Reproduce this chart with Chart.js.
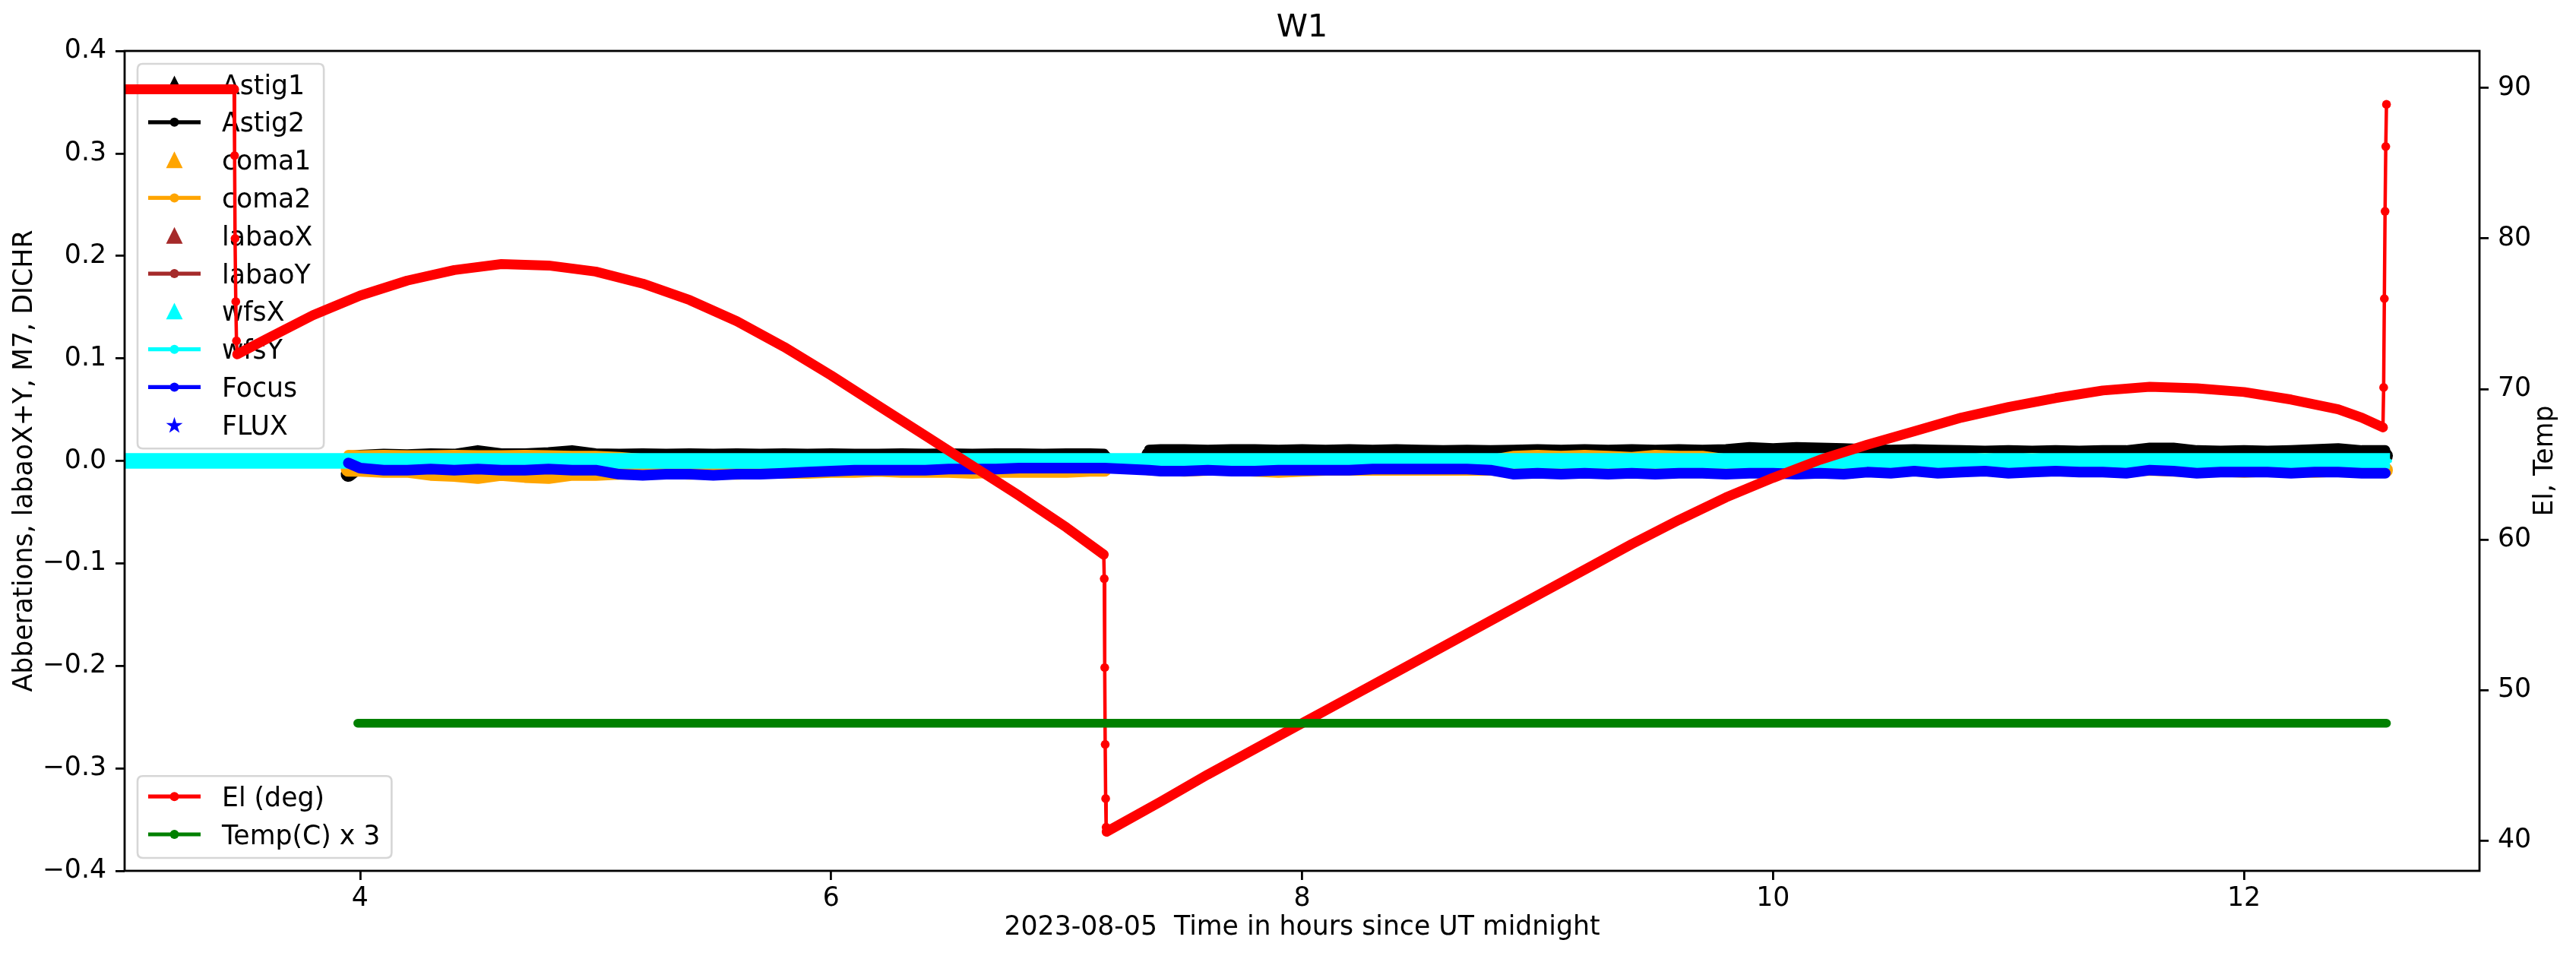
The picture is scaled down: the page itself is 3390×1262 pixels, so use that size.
<!DOCTYPE html>
<html>
<head>
<meta charset="utf-8">
<script src="https://cdn.jsdelivr.net/npm/chart.js@4.4.0/dist/chart.umd.min.js"></script>
<style>
html,body{margin:0;padding:0;background:#ffffff;}
#c{display:block;}
</style>
</head>
<body>
<canvas id="c" width="3390" height="1262" style="width:3390px;height:1262px"></canvas>
<script>
// ---------- tick labels ----------
const xTicks = [4, 6, 8, 10, 12];
const leftTicks = [-0.4, -0.3, -0.2, -0.1, 0.0, 0.1, 0.2, 0.3, 0.4];
const rightTicks = [40, 50, 60, 70, 80, 90];

// ---------- aberration series (left axis) ----------
const abTimes = [3.95, 4.0, 4.1, 4.2, 4.3, 4.4, 4.5, 4.6, 4.7, 4.8, 4.9, 5.0, 5.1, 5.2, 5.3, 5.4, 5.5, 5.6, 5.7, 5.8,
  5.9, 6.0, 6.1, 6.2, 6.3, 6.4, 6.5, 6.6, 6.7, 6.8, 6.9, 7.0, 7.1, 7.16,
  7.25,
  7.35, 7.4, 7.5, 7.6, 7.7, 7.8, 7.9, 8.0, 8.1, 8.2, 8.3, 8.4, 8.5, 8.6, 8.7, 8.8, 8.9, 9.0, 9.1, 9.2,
  9.3, 9.4, 9.5, 9.6, 9.7, 9.8, 9.9, 10.0, 10.1, 10.2, 10.3, 10.4, 10.5, 10.6, 10.7, 10.8, 10.9, 11.0, 11.1, 11.2,
  11.3, 11.4, 11.5, 11.6, 11.7, 11.8, 11.9, 12.0, 12.1, 12.2, 12.3, 12.4, 12.5, 12.6];

const astig1 = [-0.013, -0.004, 0.002, 0.003, 0.004, 0.003, 0.004, 0.003, 0.004, 0.004, 0.005, 0.004, 0.003, 0.004, 0.003, 0.003, 0.004, 0.003, 0.003, 0.004,
  0.003, 0.003, 0.004, 0.003, 0.003, 0.004, 0.003, 0.004, 0.003, 0.003, 0.004, 0.003, 0.004, 0.003,
  null,
  0.006, 0.007, 0.006, 0.007, 0.006, 0.007, 0.006, 0.007, 0.006, 0.006, 0.007, 0.006, 0.006, 0.005, 0.006, 0.006, 0.006, 0.007, 0.006, 0.006,
  0.006, 0.007, 0.006, 0.006, 0.006, 0.007, 0.008, 0.008, 0.007, 0.008, 0.006, 0.006, 0.006, 0.006, 0.005, 0.005, 0.006, 0.005, 0.005, 0.006,
  0.005, 0.006, 0.005, 0.007, 0.007, 0.005, 0.005, 0.005, 0.006, 0.005, 0.007, 0.006, 0.005, 0.005];

const astig2 = [0.005, 0.006, 0.007, 0.0065, 0.0075, 0.007, 0.0105, 0.0075, 0.0075, 0.0085, 0.0105, 0.0075, 0.007, 0.0075, 0.007, 0.0075, 0.007, 0.0075, 0.007, 0.0075,
  0.007, 0.0075, 0.007, 0.007, 0.0075, 0.007, 0.0075, 0.007, 0.0075, 0.0075, 0.007, 0.0075, 0.0075, 0.007,
  null,
  0.011, 0.0115, 0.0115, 0.011, 0.0115, 0.0115, 0.011, 0.0115, 0.011, 0.0115, 0.011, 0.0115, 0.011, 0.0105, 0.011, 0.0105, 0.011, 0.0115, 0.011, 0.0115,
  0.011, 0.0115, 0.011, 0.0115, 0.011, 0.0115, 0.0135, 0.0125, 0.0135, 0.013, 0.0125, 0.0115, 0.011, 0.0115, 0.011, 0.0105, 0.010, 0.0105, 0.010, 0.0105,
  0.010, 0.0105, 0.0105, 0.013, 0.013, 0.0105, 0.010, 0.0105, 0.010, 0.0105, 0.0115, 0.0125, 0.0105, 0.0105];

const coma1 = [-0.008, -0.008, -0.009, -0.009, -0.012, -0.013, -0.015, -0.012, -0.014, -0.015, -0.012, -0.012, -0.011, -0.011, -0.010, -0.011, -0.010, -0.011, -0.010, -0.010,
  -0.010, -0.009, -0.009, -0.008, -0.009, -0.009, -0.009, -0.010, -0.009, -0.009, -0.009, -0.009, -0.008, -0.008,
  null,
  -0.007, -0.007, -0.008, -0.007, -0.007, -0.008, -0.009, -0.008, -0.007, -0.007, -0.007, -0.007, -0.007, -0.007, -0.007, -0.007, -0.008, -0.007, -0.008, -0.007,
  -0.008, -0.007, -0.008, -0.007, -0.007, -0.008, -0.007, -0.007, -0.008, -0.007, -0.007, -0.007, -0.008, -0.007, -0.007, -0.008, -0.007, -0.008, -0.007, -0.007,
  -0.008, -0.007, -0.008, -0.007, -0.008, -0.008, -0.008, -0.009, -0.008, -0.008, -0.009, -0.008, -0.009, -0.009];

const coma2 = [0.006, 0.0055, 0.006, 0.0055, 0.0055, 0.006, 0.0055, 0.0055, 0.006, 0.0055, 0.005, 0.005, 0.004, 0.002, 0.001, 0.001, 0.002, 0.001, 0.001, 0.002,
  0.001, 0.001, 0.002, 0.001, 0.001, 0.001, 0.002, 0.001, 0.001, 0.001, 0.001, 0.002, 0.001, 0.001,
  null,
  0.001, 0.001, 0.002, 0.001, 0.001, 0.001, 0.001, 0.002, 0.001, 0.001, 0.001, 0.001, 0.001, 0.001, 0.002, 0.001, 0.005, 0.006, 0.005, 0.006,
  0.005, 0.004, 0.006, 0.005, 0.005, 0.002, 0.001, 0.001, 0.002, 0.001, 0.001, 0.001, 0.001, 0.001, 0.002, 0.001, 0.003, 0.001, 0.003, 0.001,
  0.001, 0.002, 0.001, 0.001, 0.001, 0.002, 0.001, 0.001, 0.001, 0.002, 0.001, 0.001, 0.001, 0.001];

const focus = [-0.002, -0.007, -0.009, -0.009, -0.008, -0.009, -0.008, -0.009, -0.009, -0.008, -0.009, -0.009, -0.013, -0.014, -0.013, -0.013, -0.014, -0.013, -0.013, -0.012,
  -0.011, -0.010, -0.009, -0.009, -0.009, -0.009, -0.008, -0.008, -0.008, -0.007, -0.007, -0.007, -0.007, -0.007,
  null,
  -0.009, -0.010, -0.010, -0.009, -0.010, -0.010, -0.009, -0.009, -0.009, -0.009, -0.008, -0.008, -0.008, -0.008, -0.008, -0.009, -0.013, -0.012, -0.013, -0.012,
  -0.013, -0.012, -0.013, -0.012, -0.012, -0.013, -0.012, -0.012, -0.013, -0.012, -0.013, -0.011, -0.012, -0.010, -0.012, -0.011, -0.010, -0.012, -0.011, -0.010,
  -0.011, -0.011, -0.012, -0.009, -0.010, -0.012, -0.011, -0.011, -0.011, -0.012, -0.011, -0.011, -0.012, -0.012];

const wfsTimes = [3.0, 4.0, 5.0, 6.0, 7.0, 8.0, 9.0, 10.0, 11.0, 12.0, 12.62];
const wfsX = [0.0, 0.0, 0.0, 0.0, 0.0, 0.0, 0.0, 0.0, 0.0, 0.0, 0.0];
const wfsY = [0.0, 0.0, 0.0, 0.0, 0.0, 0.0, 0.0, 0.0, 0.0, 0.0, 0.0];

const labaoX = [];
const labaoY = [];
const flux = [];

// ---------- right axis series ----------
const elTimes = [3.0, 3.2, 3.4, 3.465, 3.467, 3.469, 3.472, 3.475, 3.478,
  3.6, 3.8, 4.0, 4.2, 4.4, 4.6, 4.8, 5.0, 5.2, 5.4, 5.6, 5.8, 6.0, 6.2, 6.4, 6.6, 6.8, 7.0,
  7.158, 7.160, 7.162, 7.164, 7.166, 7.168, 7.170,
  7.4, 7.6, 7.8, 8.0, 8.2, 8.4, 8.6, 8.8, 9.0, 9.2, 9.4, 9.6, 9.8, 10.0, 10.2, 10.4, 10.6, 10.8, 11.0, 11.2,
  11.4, 11.6, 11.8, 12.0, 12.2, 12.4, 12.5, 12.59,
  12.593, 12.596, 12.599, 12.602, 12.605];
const elValues = [89.9, 89.9, 89.9, 89.9, 85.5, 80.0, 75.8, 73.2, 72.3,
  73.3, 74.9, 76.2, 77.2, 77.9, 78.3, 78.2, 77.8, 77.0, 75.9, 74.5, 72.8, 70.9, 68.9, 66.9, 64.9, 62.9, 60.8,
  59.0, 57.4, 51.5, 46.4, 42.8, 40.9, 40.6,
  42.6, 44.4, 46.1, 47.8, 49.5, 51.2, 52.9, 54.6, 56.3, 58.0, 59.7, 61.3, 62.8, 64.1, 65.3, 66.3, 67.2, 68.1, 68.8, 69.4,
  69.9, 70.15, 70.05, 69.8, 69.3, 68.65, 68.1, 67.45,
  70.1, 76.0, 81.8, 86.1, 88.9];

const tempTimes = [3.99, 5.0, 6.0, 7.0, 8.0, 9.0, 10.0, 11.0, 12.0, 12.605];
const tempValues = [47.8, 47.8, 47.8, 47.8, 47.8, 47.8, 47.8, 47.8, 47.8, 47.8];

// ---------- text ----------
const titleText = 'W1';
const xLabel = '2023-08-05  Time in hours since UT midnight';
const yLabel = 'Abberations, labaoX+Y, M7, DICHR';
const y2Label = 'El, Temp';

// ---------- helpers ----------
const FS = 34.7;
const FONT = '"DejaVu Sans", "Liberation Sans", sans-serif';
function pairs(t, v) { return t.map((x, i) => ({ x: x, y: v[i] })); }
function fmtLeft(v) { const s = Number(v).toFixed(1); return s.replace('-', '\u2212'); }

const COLORS = { black: '#000000', orange: '#ffa500', brown: '#a52a2a', cyan: '#00ffff', blue: '#0000ff', red: '#ff0000', green: '#008000' };

function leftSet(label, data, color, width, marker, line, extra) {
  return Object.assign({
    label: label, data: data, yAxisID: 'y', borderColor: color, backgroundColor: color,
    borderWidth: width, pointRadius: 0, fill: false, spanGaps: false, clip: 0,
    borderCapStyle: 'round', borderJoinStyle: 'round', mplMarker: marker, mplLine: line
  }, extra || {});
}

const datasets = [
  leftSet('Astig1', pairs(abTimes, astig1), COLORS.black, 20, 'tri', false),
  leftSet('Astig2', pairs(abTimes, astig2), COLORS.black, 13, 'dot', true),
  leftSet('coma1', pairs(abTimes, coma1), COLORS.orange, 20, 'tri', false),
  leftSet('coma2', pairs(abTimes, coma2), COLORS.orange, 13, 'dot', true),
  leftSet('labaoX', labaoX, COLORS.brown, 20, 'tri', false),
  leftSet('labaoY', labaoY, COLORS.brown, 5.2, 'dot', true),
  leftSet('wfsX', pairs(wfsTimes, wfsX), COLORS.cyan, 20.7, 'tri', false, { borderCapStyle: 'butt' }),
  leftSet('wfsY', pairs(wfsTimes, wfsY), COLORS.cyan, 5.2, 'dot', true),
  leftSet('Focus', pairs(abTimes, focus), COLORS.blue, 14, 'dot', true, {
    spanGaps: true,
    segment: { borderWidth: c => (c.p1.parsed.x - c.p0.parsed.x) > 0.15 ? 4.5 : 14 }
  }),
  leftSet('FLUX', flux, COLORS.blue, 0, 'star', false),
  {
    label: 'El (deg)', data: pairs(elTimes, elValues), yAxisID: 'y1', borderColor: COLORS.red, backgroundColor: COLORS.red,
    borderWidth: 13, pointRadius: 5.8, pointBorderWidth: 0, pointBackgroundColor: COLORS.red, fill: false, clip: 0,
    borderCapStyle: 'round', borderJoinStyle: 'round', mplMarker: 'dot', mplLine: true,
    segment: { borderWidth: c => (c.p1.parsed.x - c.p0.parsed.x) < 0.02 ? 4.5 : 13 }
  },
  {
    label: 'Temp(C) x 3', data: pairs(tempTimes, tempValues), yAxisID: 'y1', borderColor: COLORS.green, backgroundColor: COLORS.green,
    borderWidth: 11.5, pointRadius: 0, fill: false, clip: 0,
    borderCapStyle: 'round', borderJoinStyle: 'round', mplMarker: 'dot', mplLine: true
  }
];
// matplotlib draws later series on top: give earlier series a higher order (drawn first)
datasets.forEach((d, i) => { d.order = 100 - i; });

// ---------- legend drawing (matplotlib look) ----------
function drawMarker(ctx, kind, cx, cy, color) {
  ctx.save();
  ctx.fillStyle = color; ctx.strokeStyle = color;
  if (kind === 'tri') {
    const s = 19.5;
    ctx.beginPath();
    ctx.moveTo(cx, cy - s / 2); ctx.lineTo(cx - s / 2, cy + s / 2); ctx.lineTo(cx + s / 2, cy + s / 2); ctx.closePath();
    ctx.lineWidth = 1.5; ctx.lineJoin = 'miter'; ctx.fill(); ctx.stroke();
  } else if (kind === 'dot') {
    ctx.beginPath(); ctx.arc(cx, cy, 6, 0, Math.PI * 2); ctx.fill();
  } else if (kind === 'star') {
    const R = 11.5, r = R * 0.381966;
    ctx.beginPath();
    for (let k = 0; k < 10; k++) {
      const ang = -Math.PI / 2 + k * Math.PI / 5;
      const rad = (k % 2 === 0) ? R : r;
      const px = cx + rad * Math.cos(ang), py = cy + rad * Math.sin(ang) + 1;
      if (k === 0) ctx.moveTo(px, py); else ctx.lineTo(px, py);
    }
    ctx.closePath(); ctx.fill();
  }
  ctx.restore();
}

function roundRect(ctx, x, y, w, h, r) {
  ctx.beginPath();
  ctx.moveTo(x + r, y); ctx.lineTo(x + w - r, y); ctx.quadraticCurveTo(x + w, y, x + w, y + r);
  ctx.lineTo(x + w, y + h - r); ctx.quadraticCurveTo(x + w, y + h, x + w - r, y + h);
  ctx.lineTo(x + r, y + h); ctx.quadraticCurveTo(x, y + h, x, y + h - r);
  ctx.lineTo(x, y + r); ctx.quadraticCurveTo(x, y, x + r, y); ctx.closePath();
}

function drawLegend(chart, idxs, anchor) {
  const ctx = chart.ctx, ca = chart.chartArea;
  const rowH = 49.8, padTop = 27, padBot = 31;
  const left = ca.left + 17;
  const h = padTop + (idxs.length - 1) * rowH + padBot;
  const top = anchor === 'top' ? ca.top + 17 : ca.bottom - 17 - h;
  ctx.save();
  ctx.font = FS + 'px ' + FONT;
  let maxW = 0;
  idxs.forEach(i => { maxW = Math.max(maxW, ctx.measureText(chart.data.datasets[i].label).width); });
  const textX = left + 111;
  const w = (textX - left) + maxW + 15;
  roundRect(ctx, left, top, w, h, 7);
  ctx.fillStyle = 'rgba(255,255,255,0.8)'; ctx.fill();
  ctx.lineWidth = 2.6; ctx.strokeStyle = 'rgba(204,204,204,0.8)'; ctx.stroke();
  idxs.forEach((i, k) => {
    const ds = chart.data.datasets[i];
    const cy = top + padTop + k * rowH;
    const hx0 = left + 14, hx1 = left + 83, hcx = (hx0 + hx1) / 2;
    if (ds.mplLine) {
      ctx.beginPath(); ctx.moveTo(hx0, cy); ctx.lineTo(hx1, cy);
      ctx.strokeStyle = ds.borderColor; ctx.lineWidth = 5.2; ctx.lineCap = 'butt'; ctx.stroke();
    }
    drawMarker(ctx, ds.mplMarker, hcx, cy, ds.borderColor);
    ctx.fillStyle = '#000'; ctx.textAlign = 'left'; ctx.textBaseline = 'alphabetic';
    ctx.fillText(ds.label, textX, cy + 12.5);
  });
  ctx.restore();
}

const mplPlugin = {
  id: 'mplExtras',
  beforeDatasetDraw(chart, args) {
    if (args.index === 10) drawLegend(chart, [0, 1, 2, 3, 4, 5, 6, 7, 8, 9], 'top');
  },
  afterDatasetsDraw(chart) {
    drawLegend(chart, [10, 11], 'bottom');
    const ctx = chart.ctx, ca = chart.chartArea;
    ctx.save();
    ctx.strokeStyle = '#000'; ctx.lineWidth = 2.8;
    ctx.strokeRect(ca.left, ca.top, ca.right - ca.left, ca.bottom - ca.top);
    // right axis label (reads bottom-to-top like matplotlib)
    ctx.translate(3350, (ca.top + ca.bottom) / 2);
    ctx.rotate(-Math.PI / 2);
    ctx.font = FS + 'px ' + FONT; ctx.fillStyle = '#000';
    ctx.textAlign = 'center'; ctx.textBaseline = 'middle';
    ctx.fillText(y2Label, 0, 0);
    ctx.restore();
  }
};

Chart.defaults.font.family = FONT;
Chart.defaults.font.size = FS;
Chart.defaults.color = '#000';

const gridOpts = { display: true, drawOnChartArea: false, drawTicks: true, tickLength: 12, color: '#000', lineWidth: 2.8 };

new Chart(document.getElementById('c'), {
  type: 'line',
  data: { datasets: datasets },
  options: {
    responsive: false, animation: false, devicePixelRatio: 1,
    layout: { padding: 0 },
    events: [],
    plugins: {
      legend: { display: false },
      tooltip: { enabled: false },
      title: { display: true, text: titleText, color: '#000', fullSize: false,
        font: { size: 41.7, weight: 'normal' }, padding: { top: 12, bottom: 5 } }
    },
    scales: {
      x: {
        type: 'linear', position: 'bottom', min: 3, max: 13,
        afterBuildTicks: s => { s.ticks = xTicks.map(v => ({ value: v })); },
        afterFit: s => { s.height = 116; },
        ticks: { color: '#000', padding: 4, autoSkip: false, maxRotation: 0, callback: v => String(v) },
        grid: gridOpts, border: { display: false },
        title: { display: true, text: xLabel, color: '#000', font: { size: FS }, padding: { top: 0, bottom: 20 } }
      },
      y: {
        type: 'linear', position: 'left', min: -0.4, max: 0.4,
        afterBuildTicks: s => { s.ticks = leftTicks.map(v => ({ value: v })); },
        afterFit: s => { s.width = 164; },
        ticks: { color: '#000', padding: 12, autoSkip: false, callback: v => fmtLeft(v) },
        grid: gridOpts, border: { display: false },
        title: { display: true, text: yLabel, color: '#000', font: { size: FS }, padding: { top: 12, bottom: 0 } }
      },
      y1: {
        type: 'linear', position: 'right', min: 38.0, max: 92.45,
        afterBuildTicks: s => { s.ticks = rightTicks.map(v => ({ value: v })); },
        afterFit: s => { s.width = 127; },
        ticks: { color: '#000', padding: 12, autoSkip: false, callback: v => String(v) },
        grid: gridOpts, border: { display: false },
        title: { display: false }
      }
    }
  },
  plugins: [mplPlugin]
});
</script>
</body>
</html>
